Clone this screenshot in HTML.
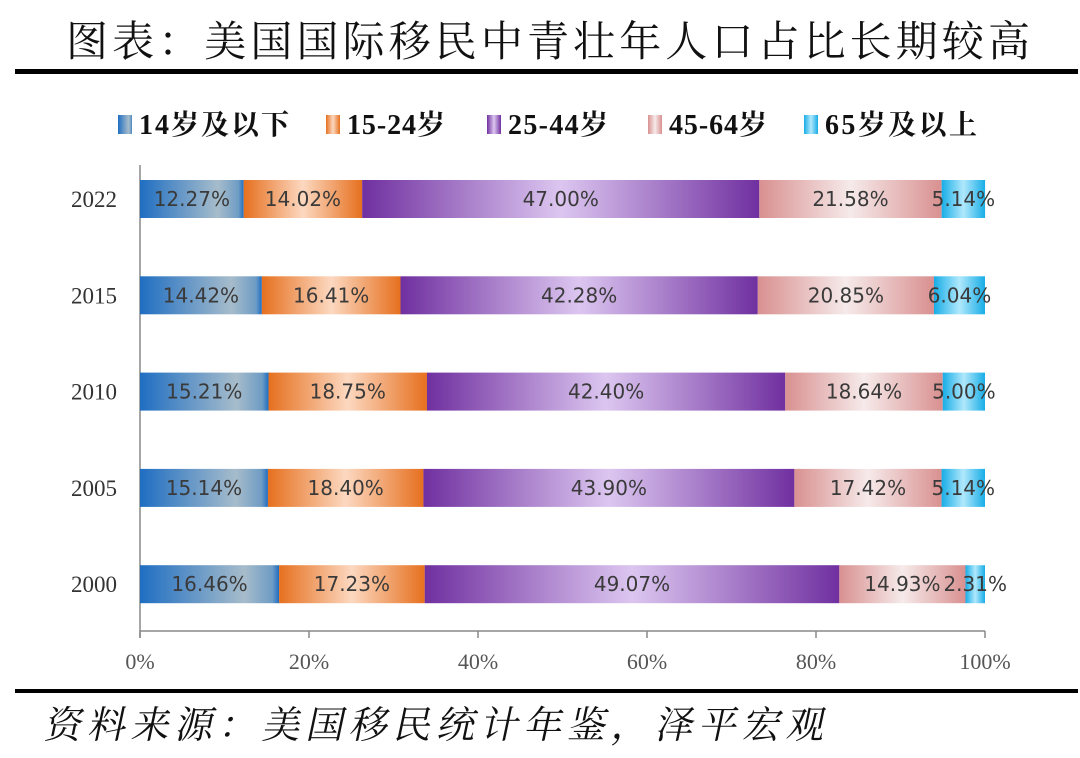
<!DOCTYPE html>
<html><head><meta charset="utf-8"><style>
html,body{margin:0;padding:0;background:#fff;width:1080px;height:758px;overflow:hidden}
svg{display:block}
</style></head><body>
<svg id="chart" width="1080" height="758" xmlns="http://www.w3.org/2000/svg">
<defs>
<linearGradient id="g0" x1="0" x2="1"><stop offset="0" stop-color="#1f6ec2"/><stop offset="0.75" stop-color="#a6bccb"/><stop offset="0.95" stop-color="#6f9cc4"/><stop offset="1" stop-color="#1f6ec2"/></linearGradient>
<linearGradient id="g1" x1="0" x2="1"><stop offset="0" stop-color="#e6701f"/><stop offset="0.5" stop-color="#fcd8c0"/><stop offset="1" stop-color="#e6701f"/></linearGradient>
<linearGradient id="g2" x1="0" x2="1"><stop offset="0" stop-color="#7030a0"/><stop offset="0.5" stop-color="#dcc6f0"/><stop offset="1" stop-color="#7030a0"/></linearGradient>
<linearGradient id="g3" x1="0" x2="1"><stop offset="0" stop-color="#d99090"/><stop offset="0.5" stop-color="#f6eaea"/><stop offset="1" stop-color="#d99090"/></linearGradient>
<linearGradient id="g4" x1="0" x2="1"><stop offset="0" stop-color="#18ade6"/><stop offset="0.5" stop-color="#b0e8fc"/><stop offset="1" stop-color="#18ade6"/></linearGradient>
</defs>
<text x="66" y="56" font-size="42" textLength="964" lengthAdjust="spacing" font-family="'Liberation Serif','Noto Serif CJK SC',serif" fill="#111">图表：美国国际移民中青壮年人口占比长期较高</text>
<rect x="15" y="69" width="1063" height="5" fill="#000"/>
<g id="legend"></g>
<g id="plot"></g>
<rect x="15" y="689" width="1063" height="4" fill="#000"/>
<text x="200" y="738" font-size="38" textLength="780" lengthAdjust="spacing" font-family="'Liberation Serif','Noto Serif CJK SC',serif" fill="#111" transform="skewX(-12)">资料来源：美国移民统计年鉴，泽平宏观</text>
</svg>
<script>
const years=["2022","2015","2010","2005","2000"];
const s14=[12.27,14.42,15.21,15.14,16.46];
const s15=[14.02,16.41,18.75,18.40,17.23];
const s25=[47.00,42.28,42.40,43.90,49.07];
const s45=[21.58,20.85,18.64,17.42,14.93];
const s65=[5.14,6.04,5.00,5.14,2.31];
const seriesNames=["14岁及以下","15-24岁","25-44岁","45-64岁","65岁及以上"];
const ticks=[0,20,40,60,80,100];
const NS="http://www.w3.org/2000/svg";
const x0=140,x1=985;
const X=v=>x0+(x1-x0)*v/100;
const Y=i=>199+i*96.3;
const plot=document.getElementById('plot');
function mk(t,a,p){const e=document.createElementNS(NS,t);for(const k in a)e.setAttribute(k,a[k]);(p||plot).appendChild(e);return e;}
const series=[s14,s15,s25,s45,s65];
let ax=mk('line',{x1:x0,x2:x0,y1:165,y2:638,stroke:'#888','stroke-width':1.5});


let xa=mk('line',{x1:x0,x2:x1,y1:631,y2:631,stroke:'#888','stroke-width':1.5});


ticks.forEach(t=>{
 let tk=mk('line',{x1:X(t),x2:X(t),y1:631,y2:638,stroke:'#888','stroke-width':1.5});
 
 
 let tl=mk('text',{x:X(t),y:669,'text-anchor':'middle','font-size':22,'font-family':"'Liberation Serif',serif",fill:'#555'});
 tl.textContent=t+'%';
 
 
});
years.forEach((yr,i)=>{
 const cy=Y(i);
 let yl=mk('text',{x:94,y:cy+8,'text-anchor':'middle','font-size':23,'font-family':"'Liberation Serif',serif",fill:'#333'});
 yl.textContent=yr;
 
 
 let acc=0;
 series.forEach((s,k)=>{
  const v=s[i];
  let r=mk('rect',{x:X(acc),y:cy-19,width:X(acc+v)-X(acc),height:38,fill:'url(#g'+k+')'});
  
  
  let tx=mk('text',{x:(X(acc)+X(acc+v))/2,y:cy+7,'text-anchor':'middle','font-size':20,'font-family':"'DejaVu Sans','Liberation Sans',sans-serif",fill:'#3a3a3a'});
  tx.textContent=v.toFixed(2)+'%';
  
  
  acc+=v;
 });
});
const lg=document.getElementById('legend');
const lx=[118,326,487,648,804];
const lw=[150,98,100,98,152];
seriesNames.forEach((n,k)=>{
 let r=mk('rect',{x:lx[k],y:115,width:14,height:19,fill:'url(#g'+k+')'},lg);
 
 
 let t=mk('text',{x:lx[k]+21,y:134,'font-size':28,'font-weight':'bold',textLength:lw[k],lengthAdjust:'spacing','font-family':"'Liberation Serif','Noto Serif CJK SC',serif",fill:'#111'},lg);
 t.textContent=n;
 
 
});
</script>
</body></html>
